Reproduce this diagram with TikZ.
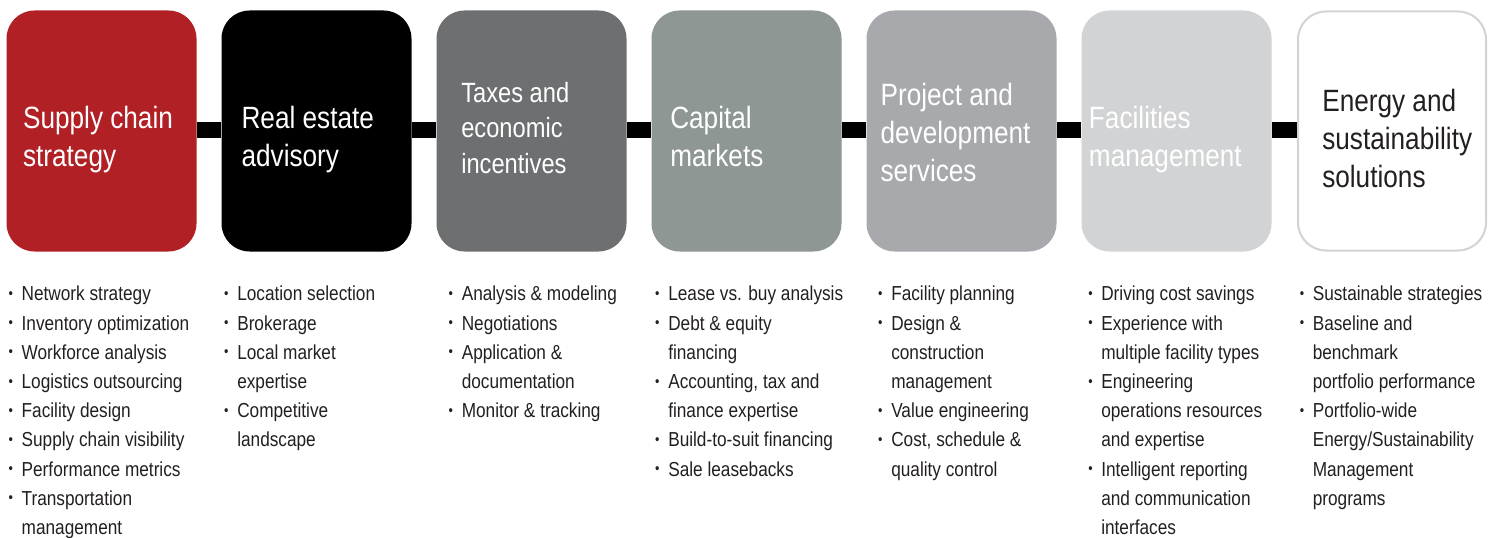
\documentclass[tikz,border=0pt]{standalone}
\usepackage{fontspec}
\setmainfont{Liberation Sans}[FakeStretch=0.85]
\definecolor{cRed}{HTML}{B12025}
\definecolor{cBlack}{HTML}{000000}
\definecolor{cDark}{HTML}{6D6F71}
\definecolor{cSage}{HTML}{8E9794}
\definecolor{cMid}{HTML}{A7A9AC}
\definecolor{cLight}{HTML}{D1D3D4}
\definecolor{cText}{HTML}{231F20}
\newcommand\tstrut{\rule{0pt}{21pt}}
\newcommand\lstrut{\rule{0pt}{15pt}}
\newcommand\bul{\llap{\raisebox{1.8pt}{\fontsize{11pt}{11pt}\selectfont •}\hspace{6.5pt}}}
\begin{document}
\begin{tikzpicture}[x=0.75pt,y=-0.75pt,
  box/.style={rectangle, rounded corners=21pt, minimum width=142.5pt, minimum height=180.75pt, inner sep=0pt},
  bar/.style={line width=12pt, draw=black},
  title/.style={anchor=north west, inner sep=0pt, align=left, text=white, font=\fontsize{23.1pt}{28.5pt}\selectfont},
  list/.style={anchor=north west, inner sep=0pt, align=left, text=cText, font=\fontsize{15.2pt}{21.9pt}\selectfont}]
\useasboundingbox (0,0) rectangle (1494,538);
% boxes
\node[box, fill=cRed]   (b1) at (101.5,131) {};
\node[box, fill=cBlack] (b2) at (316.5,131) {};
\node[box, fill=cDark]  (b3) at (531.5,131) {};
\node[box, fill=cSage]  (b4) at (746.5,131) {};
\node[box, fill=cMid]   (b5) at (961.5,131) {};
\node[box, fill=cLight] (b6) at (1176.5,131) {};
\node[box, fill=white, draw=cLight, line width=1.5pt, minimum width=141pt, minimum height=179.25pt] (b7) at (1392,131) {};
% connectors
\draw[bar] ([yshift=0.75pt]b1.east) -- ([yshift=0.75pt]b2.west);
\draw[bar] ([yshift=0.75pt]b2.east) -- ([yshift=0.75pt]b3.west);
\draw[bar] ([yshift=0.75pt]b3.east) -- ([yshift=0.75pt]b4.west);
\draw[bar] ([yshift=0.75pt]b4.east) -- ([yshift=0.75pt]b5.west);
\draw[bar] ([yshift=0.75pt]b5.east) -- ([yshift=0.75pt]b6.west);
\draw[bar] ([yshift=0.75pt]b6.east) -- ([yshift=0.75pt]b7.west);
% titles
\node[title] (t1) at (22.8,100.5) {\tstrut Supply chain\\strategy};
\node[title] (t2) at (241.3,100.5) {\tstrut Real estate\\advisory};
\node[title, font=\fontsize{20.9pt}{26.6pt}\selectfont] (t3) at (461,74) {\tstrut Taxes and\\economic\\incentives};
\node[title] (t4) at (670,100.5) {\tstrut Capital\\markets};
\node[title] (t5) at (880.3,77.5) {\tstrut Project and\\development\\services};
\node[title] (t6) at (1088.7,100.5) {\tstrut Facilities\\management};
\node[title, text=cText] (t7) at (1322,83.5) {\tstrut Energy and\\sustainability\\solutions};
% lists
\node[list] (l1) at (21.4,280.7) {\lstrut\bul Network strategy\\\bul Inventory optimization\\\bul Workforce analysis\\\bul Logistics outsourcing\\\bul Facility design\\\bul Supply chain visibility\\\bul Performance metrics\\\bul Transportation\\management};
\node[list] (l2) at (237,280.7) {\lstrut\bul Location selection\\\bul Brokerage\\\bul Local market\\expertise\\\bul Competitive\\landscape};
\node[list] (l3) at (461.5,280.7) {\lstrut\bul Analysis \& modeling\\\bul Negotiations\\\bul Application \&\\documentation\\\bul Monitor \& tracking};
\node[list] (l4) at (668,280.7) {\lstrut\bul Lease vs. buy analysis\\\bul Debt \& equity\\financing\\\bul Accounting, tax and\\finance expertise\\\bul Build-to-suit financing\\\bul Sale leasebacks};
\node[list] (l5) at (891,280.7) {\lstrut\bul Facility planning\\\bul Design \&\\construction\\management\\\bul Value engineering\\\bul Cost, schedule \&\\quality control};
\node[list] (l6) at (1101,280.7) {\lstrut\bul Driving cost savings\\\bul Experience with\\multiple facility types\\\bul Engineering\\operations resources\\and expertise\\\bul Intelligent reporting\\and communication\\interfaces};
\node[list] (l7) at (1312.5,280.7) {\lstrut\bul Sustainable strategies\\\bul Baseline and\\benchmark\\portfolio performance\\\bul Portfolio-wide\\Energy/Sustainability\\Management\\programs};
\end{tikzpicture}
\end{document}
